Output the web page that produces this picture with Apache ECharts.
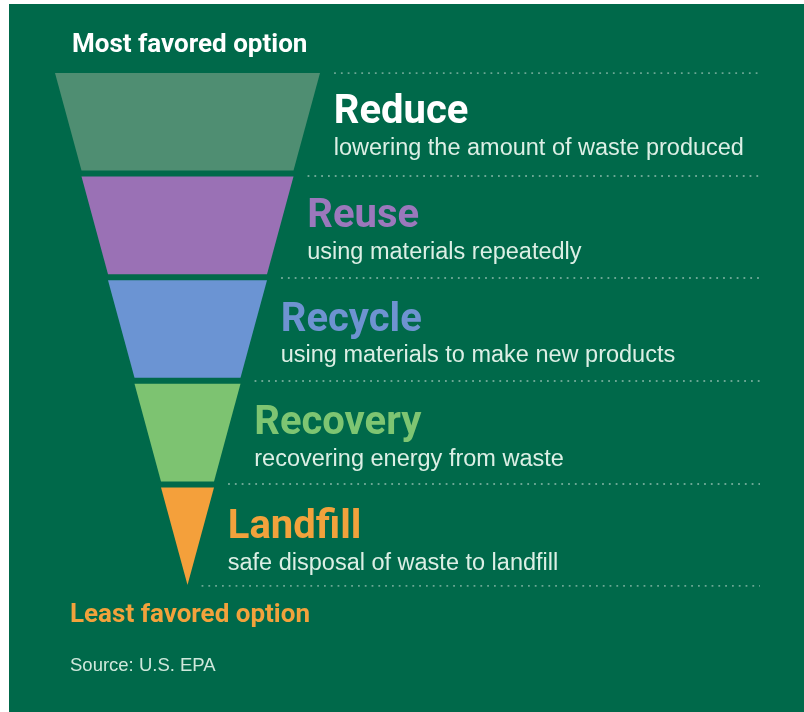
<!DOCTYPE html>
<html>
<head>
<meta charset="utf-8">
<script src="https://cdn.jsdelivr.net/npm/echarts@6/dist/echarts.min.js"></script>
<style>
    body { margin: 0; background: #fff; }
    /* green card with the thin white strip left and top like the scan */
    #chart { width: 804px; height: 712px; background: #00694a; box-shadow: inset 9px 4px 0 0 #fff; }
</style>
</head>
<body>
<div id="chart"></div>
<script>
// waste hierarchy, top = most favored
var stages = ['Reduce', 'Reuse', 'Recycle', 'Recovery', 'Landfill'];
var notes = [
    'lowering the amount of waste produced',
    'using materials repeatedly',
    'using materials to make new products',
    'recovering energy from waste',
    'safe disposal of waste to landfill'
];
var preference = [100, 80, 60, 40, 20];
// dotted guide at each tier boundary (0 = top of funnel, 5 = tip)
var boundaries = [0, 1, 2, 3, 4, 5];

var fillColors = ['#4f8e72', '#9a71b5', '#6b94d3', '#7dc371', '#f4a03b'];
var nameColors = ['#ffffff', '#9b78bc', '#6e93d1', '#7ec572', '#f2a23c'];

var heavy = 'Roboto, "Liberation Sans", sans-serif';
var plain = '"Liberation Sans", Arial, sans-serif';

var rich = {
    s: { fontFamily: plain, fontSize: 23.5, lineHeight: 17, color: '#dcefe5' }
};
stages.forEach(function(s, i){
    rich['t' + i] = { fontFamily: heavy, fontWeight: 'bold', fontSize: 40, lineHeight: 54, color: nameColors[i] };
});

// guides start a bit right of the funnel edge, half the width value
var guides = boundaries.map(function(b){
    var edge = (b < preference.length ? preference[b] : 0) / 2;
    return { coords: [[edge + 5.3, b], [216, b]] };
});

var myChart = echarts.init(document.getElementById('chart'));
var option = {
    backgroundColor: 'transparent',
    animation: false,
    grid: { left: 55, right: 44, top: 73, bottom: 126 },
    xAxis: { type: 'value', min: -50, max: 216, show: false },
    yAxis: { type: 'value', min: 0, max: 5, inverse: true, show: false },
    graphic: [
        { type: 'text', left: 72, top: 32, style: { text: 'Most favored option', fill: '#ffffff', font: 'bold 26px ' + heavy } },
        { type: 'text', left: 70, top: 602, style: { text: 'Least favored option', fill: '#f2a23c', font: 'bold 26px ' + heavy } },
        { type: 'text', left: 70, top: 656, style: { text: 'Source: U.S. EPA', fill: '#cfe8dc', font: '18.5px ' + plain } }
    ],
    series: [
        {
            type: 'lines',
            coordinateSystem: 'cartesian2d',
            silent: true,
            lineStyle: { color: 'rgba(190,215,205,0.75)', width: 1.6, type: [1.8, 5], opacity: 1 },
            data: guides
        },
        {
            type: 'funnel',
            left: 55,
            top: 73,
            width: 265,
            height: 512,
            min: 0,
            max: 100,
            minSize: '0%',
            maxSize: '100%',
            sort: 'none',
            gap: 6,
            silent: true,
            itemStyle: { borderWidth: 0 },
            label: {
                show: true,
                position: 'right',
                formatter: function(p){
                    return '{t' + p.dataIndex + '|' + p.name + '}\n{s|' + notes[p.dataIndex] + '}';
                },
                rich: rich
            },
            labelLine: { show: false, length: 22 },
            emphasis: { disabled: true },
            data: stages.map(function(s, i){
                return { name: s, value: preference[i], itemStyle: { color: fillColors[i] } };
            })
        }
    ]
};
myChart.setOption(option);
</script>
</body>
</html>
